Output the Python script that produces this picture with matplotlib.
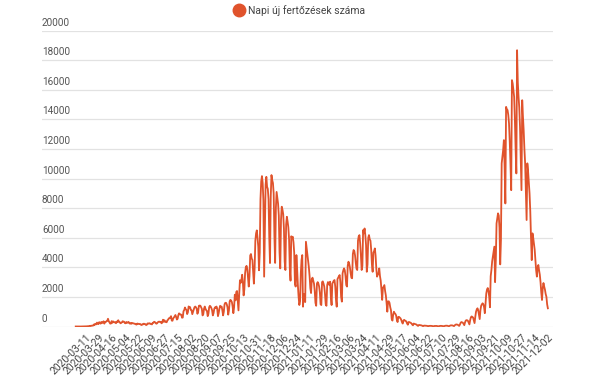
import matplotlib

matplotlib.use("Agg")
import matplotlib.pyplot as plt
import matplotlib.transforms as mtransforms
import pandas as pd
from matplotlib.lines import Line2D

plt.rcParams["font.family"] = ["Roboto", "DejaVu Sans"]

LINE_COLOR = "#e0532c"
GRID_COLOR = "#e2e2e2"
TEXT_COLOR = "#555555"

series_label = "Napi új fertőzések száma"
start_date = "2020-02-26"
end_date = "2021-12-02"
missing_date = "2021-07-20"  # one day absent from the source table

tick_labels = [
    "2020-03-11", "2020-03-29", "2020-04-16", "2020-05-04", "2020-05-22",
    "2020-06-09", "2020-06-27", "2020-07-15", "2020-08-02", "2020-08-20",
    "2020-09-07", "2020-09-25", "2020-10-13", "2020-10-31", "2020-11-18",
    "2020-12-06", "2020-12-24", "2021-01-11", "2021-01-29", "2021-02-16",
    "2021-03-06", "2021-03-24", "2021-04-11", "2021-04-29", "2021-05-17",
    "2021-06-04", "2021-06-22", "2021-07-10", "2021-07-29", "2021-08-16",
    "2021-09-03", "2021-09-21", "2021-10-09", "2021-10-27", "2021-11-14",
    "2021-12-02",
]
y_ticks = [0, 2000, 4000, 6000, 8000, 10000, 12000, 14000, 16000, 18000, 20000]

# daily new cases, one row per week (Wed..Tue)
daily_cases = [
    1, 0, 0, 0, 2, 0, 3,
    0, 1, 2, 6, 2, 2, 4,
    7, 12, 19, 18, 27, 45, 25,
    56, 48, 65, 66, 143, 114, 186,
    144, 263, 186, 160, 293, 263, 192,
    308, 233, 290, 352, 193, 303, 304,
    360, 375, 523, 366, 278, 197, 200,
    363, 250, 347, 303, 276, 292, 223,
    337, 294, 423, 319, 300, 217, 241,
    284, 356, 331, 323, 230, 217, 307,
    251, 263, 313, 234, 190, 232, 185,
    240, 216, 212, 184, 188, 145, 130,
    202, 170, 185, 163, 170, 115, 99,
    160, 147, 193, 155, 162, 96, 120,
    210, 190, 212, 220, 167, 167, 140,
    252, 251, 320, 298, 233, 190, 214,
    287, 320, 330, 300, 317, 215, 262,
    460, 325, 423, 311, 327, 283, 414,
    457, 555, 561, 614, 698, 400, 389,
    555, 614, 698, 777, 636, 471, 525,
    777, 889, 815, 816, 795, 593, 607,
    1030, 1112, 1284, 1170, 1120, 840, 960,
    1356, 1295, 1310, 1120, 1100, 833, 1000,
    1150, 1300, 1350, 1300, 1200, 860, 1001,
    1400, 1415, 1408, 1300, 1200, 750, 830,
    1200, 1350, 1200, 1100, 1050, 700, 850,
    1300, 1400, 1350, 1250, 1100, 750, 900,
    1200, 1300, 1250, 1350, 1200, 700, 900,
    1200, 1400, 1300, 1350, 1100, 750, 1000,
    1500, 1600, 1600, 1500, 1300, 800, 1100,
    1700, 1800, 1750, 1650, 1350, 900, 1300,
    2150, 1770, 2340, 2400, 1750, 1090, 2200,
    3130, 2950, 3130, 3500, 3000, 2100, 2500,
    3600, 4000, 4100, 3900, 3300, 2700, 3400,
    4800, 4900, 4600, 4500, 3700, 2900, 3900,
    5800, 6300, 6500, 6000, 5400, 3800, 5000,
    8600, 9800, 10170, 9700, 8500, 3370, 6400,
    9600, 10120, 9450, 9300, 8600, 6000, 4290,
    8800, 10240, 9900, 9700, 9000, 6100, 4300,
    8000, 9100, 8700, 8300, 7500, 5000, 3930,
    7200, 8100, 7900, 7600, 6600, 4400, 3820,
    6900, 7420, 7100, 6700, 5900, 3900, 3100,
    6100, 6000, 6070, 5700, 5000, 2900, 2700,
    4830, 3900, 2800, 2000, 1450, 1700, 3600,
    4500, 4830, 1340, 2200, 2000, 1650, 5730,
    5300, 4900, 4490, 4000, 3400, 2600, 2260,
    3200, 3300, 3100, 2900, 2400, 1600, 1400,
    2900, 3000, 2900, 2700, 2300, 1500, 1450,
    3000, 3050, 2900, 2700, 2200, 1500, 1400,
    2800, 3000, 2950, 2800, 3030, 2000, 1450,
    2900, 3000, 3100, 3140, 2700, 1800, 1340,
    3200, 3300, 3400, 3480, 3000, 2000, 1680,
    3600, 3800, 3930, 3800, 3400, 2800, 2700,
    4100, 4380, 4250, 4000, 3600, 3300, 3260,
    4900, 5170, 5100, 4800, 4300, 3900, 3820,
    5800, 6100, 6180, 5600, 4800, 3820, 4100,
    6520, 6300, 6630, 6180, 5500, 3700, 4200,
    6000, 6180, 5900, 5800, 5200, 4200, 3700,
    5000, 5100, 5280, 4800, 3900, 3370, 3500,
    3600, 3930, 3400, 3100, 2500, 1800, 2600,
    2700, 2800, 2400, 2100, 1600, 1000, 1700,
    1700, 1600, 1300, 1100, 500, 400, 800,
    1000, 900, 850, 750, 450, 300, 650,
    650, 600, 550, 450, 300, 200, 400,
    450, 400, 380, 330, 200, 120, 300,
    300, 270, 250, 200, 130, 80, 200,
    180, 160, 150, 120, 70, 40, 100,
    100, 90, 85, 70, 40, 25, 60,
    60, 55, 50, 45, 30, 15, 40,
    45, 45, 40, 35, 20, 10, 30,
    40, 35, 40, 30, 20, 8, 30,
    40, 45, 40, 40, 25, 12, 35,
    50, 55, 55, 50, 30, 15, 45,
    70, 80, 75, 70, 45, 25, 80,
    120, 140, 130, 120, 80, 40, 130,
    250, 300, 280, 260, 170, 90, 280,
    400, 430, 420, 380, 250, 140, 430,
    620, 680, 650, 600, 400, 230, 650,
    1000, 1150, 1230, 1100, 800, 500, 1100,
    1400, 1500, 1570, 1500, 1300, 900, 1600,
    2240, 2500, 2600, 2400, 2010, 1300, 3400,
    3820, 4400, 4720, 5000, 5400, 3000, 4490,
    6970, 7300, 7650, 7500, 6700, 4200, 5840,
    11030, 11500, 11930, 12600, 10800, 8320, 14850,
    14700, 14630, 14300, 13730, 12500, 11000, 9220,
    16660, 16430, 16000, 15530, 14000, 12000, 10350,
    18680, 16500, 15530, 14800, 13500, 11500, 9220,
    15300, 14200, 13270, 12000, 11030, 9000, 7200,
    11030, 10500, 9700, 9000, 7800, 6000, 4490,
    6300, 6000, 5600, 5200, 4500, 3800, 3370,
    4000, 4160, 3800, 3500, 3000, 2300, 1790,
    2600, 2940, 2700, 2500, 2200, 2010, 1500,
    1230,
]

dates = pd.date_range(start_date, end_date, freq="D")
dates = dates[dates != pd.Timestamp(missing_date)]
date_str = list(dates.strftime("%Y-%m-%d"))
n = min(len(date_str), len(daily_cases))
x = list(range(n))
tick_pos = [date_str.index(t) for t in tick_labels]

fig = plt.figure(figsize=(6.15, 3.85), dpi=100)
ax = fig.add_axes([42 / 615, 1 - 326.5 / 385, (553 - 42) / 615, (326.5 - 30.7) / 385])

ax.plot(x, daily_cases[:n], color=LINE_COLOR, linewidth=1.3, solid_joinstyle="round")

ax.set_xlim(-46, 651)
ax.set_ylim(0, 20000)
ax.set_axisbelow(True)
for side in ax.spines.values():
    side.set_visible(False)

ax.set_yticks(y_ticks)
ax.yaxis.grid(True, color=GRID_COLOR, linewidth=0.9)
ax.tick_params(axis="y", length=0, labelleft=False)
trans = mtransforms.blended_transform_factory(ax.transAxes, ax.transData)
trans = trans + mtransforms.ScaledTranslation(0, 3 / 100, fig.dpi_scale_trans)
for v in y_ticks:
    ax.text(0, v, str(v), transform=trans, ha="left", va="bottom",
            fontsize=7.2, color=TEXT_COLOR)

ax.set_xticks(tick_pos)
ax.set_xticklabels(tick_labels, rotation=45, ha="right", rotation_mode="anchor",
                   fontsize=7.5, color="#444444")
ax.tick_params(axis="x", length=0, pad=4)

handle = Line2D([], [], marker="o", linestyle="none", color=LINE_COLOR, markersize=9)
fig.legend([handle], [series_label], loc="center", bbox_to_anchor=(0.487, 0.973),
           frameon=False, fontsize=7.5, labelcolor="#444444",
           handletextpad=0.4, handlelength=1.0)

fig.savefig("out.png", dpi=100, facecolor="white")
